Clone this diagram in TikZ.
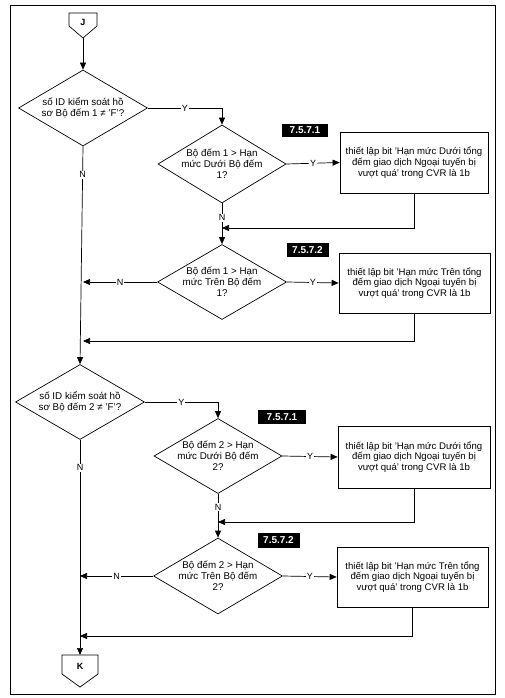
\documentclass[tikz,border=0pt]{standalone}
\usepackage{fontspec}
\setmainfont{Liberation Sans}
\usetikzlibrary{shapes.geometric,arrows.meta}
\begin{document}
\begin{tikzpicture}[x=1pt,y=-1pt,
  every node/.style={font=\fontsize{9}{11}\selectfont},
  dia/.style={draw,diamond,aspect=1.7,inner sep=0pt,line width=0.7pt},
  txt/.style={align=center,inner sep=0pt,font=\fontsize{9.8}{11.2}\selectfont},
  box/.style={draw,rectangle,line width=0.7pt,align=center,inner sep=0pt,font=\fontsize{9.6}{10.8}\selectfont},
  tag/.style={fill=black,text=white,inner sep=0pt,font=\fontsize{10}{11}\selectfont\bfseries},
  lbl/.style={fill=white,inner sep=1pt},
  arr/.style={line width=0.7pt,-{Triangle[length=7pt,width=6pt]}},
  ln/.style={line width=0.7pt}]
\useasboundingbox (0,0) rectangle (504,698);
\draw[line width=1pt] (10,6) rectangle (495,694);
% J connector
\draw[ln] (69,13) -- (97,13) -- (97,26) -- (83,38) -- (69,26) -- cycle;
\node[font=\fontsize{9}{11}\selectfont\bfseries] (J) at (83,22) {J};
\coordinate (Jb) at (83,38);
% section 1
\node[dia,minimum width=129pt,minimum height=76pt] (d1) at (83,108) {};
\node[txt] at (d1) {số ID kiểm soát hồ\\sơ Bộ đếm 1 ≠ 'F'?};
\node[dia,minimum width=128pt,minimum height=78pt] (d2) at (222,164) {};
\node[txt] at (d2) {Bộ đếm 1 > Hạn\\mức Dưới Bộ đếm\\1?};
\node[box,minimum width=148pt,minimum height=61pt] (b1) at (414,162.5) {thiết lập bit 'Hạn mức Dưới tổng\\đếm giao dịch Ngoại tuyến bị\\vượt quá' trong CVR là 1b};
\node[tag,minimum width=46pt,minimum height=13pt] (t1) at (305,130.5) {7.5.7.1};
\node[dia,minimum width=129pt,minimum height=75pt] (d3) at (222,282) {};
\node[txt] at (d3) {Bộ đếm 1 > Hạn\\mức Trên Bộ đếm\\1?};
\node[box,minimum width=151pt,minimum height=60pt] (b2) at (414.5,283) {thiết lập bit 'Hạn mức Trên tổng\\đếm giao dịch Ngoại tuyến bị\\vượt quá' trong CVR là 1b};
\node[tag,minimum width=42pt,minimum height=14pt] (t2) at (307.5,250) {7.5.7.2};
\coordinate (m1) at (222,228);
\coordinate (l1) at (83,282);
\coordinate (l2) at (83,341);
\draw[arr] (Jb) -- (d1.north);
\draw[arr] (d1.east) -| node[lbl,pos=0.25]{Y} (d2.north);
\draw[arr] (d2.east) -- node[lbl]{Y} (b1.west);
\draw[arr] (d2.south) -- node[lbl,pos=0.35]{N} (d3.north);
\draw[arr] (b1.south) |- (m1);
\draw[arr] (d3.east) -- node[lbl]{Y} (b2.west);
\draw[arr] (d3.west) -- node[lbl]{N} (l1);
\draw[arr] (b2.south) |- (l2);
% section 2
\node[dia,minimum width=129pt,minimum height=75pt] (d4) at (80,402) {};
\node[txt] at (d4) {số ID kiểm soát hồ\\sơ Bộ đếm 2 ≠ 'F'?};
\draw[arr] (d1.south) -- node[lbl,pos=0.13]{N} (d4.north);
\node[dia,minimum width=128pt,minimum height=75pt] (d5) at (218,456) {};
\node[txt] at (d5) {Bộ đếm 2 > Hạn\\mức Dưới Bộ đếm\\2?};
\node[box,minimum width=152pt,minimum height=62pt] (b3) at (414,457) {thiết lập bit 'Hạn mức Dưới tổng\\đếm giao dịch Ngoại tuyến bị\\vượt quá' trong CVR là 1b};
\node[tag,minimum width=48pt,minimum height=14pt] (t3) at (282,417) {7.5.7.1};
\node[dia,minimum width=129pt,minimum height=76pt] (d6) at (218,576) {};
\node[txt] at (d6) {Bộ đếm 2 > Hạn\\mức Trên Bộ đếm\\2?};
\node[box,minimum width=151pt,minimum height=60pt] (b4) at (412.5,577) {thiết lập bit 'Hạn mức Trên tổng\\đếm giao dịch Ngoại tuyến bị\\vượt quá' trong CVR là 1b};
\node[tag,minimum width=42pt,minimum height=15pt] (t4) at (278.5,540.5) {7.5.7.2};
\coordinate (m2) at (218,522);
\coordinate (l3) at (80,576);
\coordinate (l4) at (80,636);
\draw[arr] (d4.east) -| node[lbl,pos=0.25]{Y} (d5.north);
\draw[arr] (d5.east) -- node[lbl]{Y} (b3.west);
\draw[arr] (d5.south) -- node[lbl,pos=0.3]{N} (d6.north);
\draw[arr] (b3.south) |- (m2);
\draw[arr] (d6.east) -- node[lbl]{Y} (b4.west);
\draw[arr] (d6.west) -- node[lbl]{N} (l3);
\draw[arr] (b4.south) |- (l4);
% K connector
\draw[ln] (62,655) -- (98,655) -- (98,674) -- (80,687) -- (62,674) -- cycle;
\node[font=\fontsize{9}{11}\selectfont\bfseries] (K) at (80,666) {K};
\coordinate (Kt) at (80,655);
\draw[arr] (d4.south) -- node[lbl,pos=0.13]{N} (Kt);
\end{tikzpicture}
\end{document}
